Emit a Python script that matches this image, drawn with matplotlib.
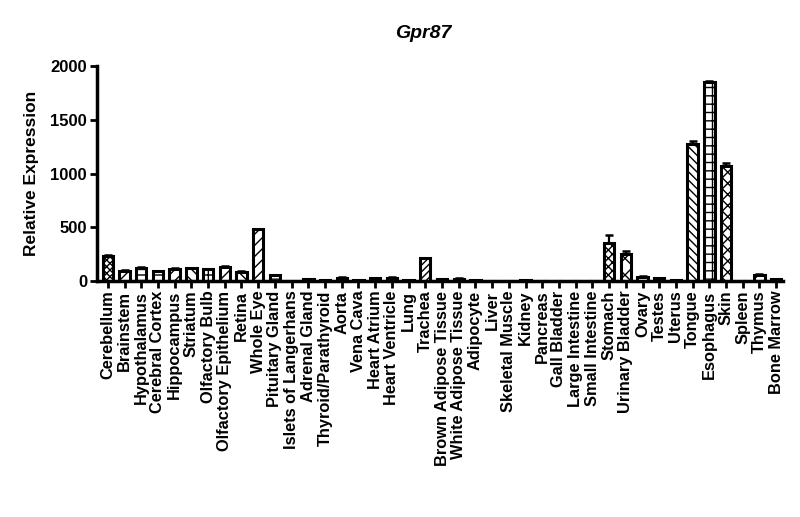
import matplotlib
matplotlib.use("Agg")
import matplotlib.pyplot as plt
import numpy as np

categories = ["Cerebellum", "Brainstem", "Hypothalamus", "Cerebral Cortex", "Hippocampus",
              "Striatum", "Olfactory Bulb", "Olfactory Epithelium", "Retina", "Whole Eye",
              "Pituitary Gland", "Islets of Langerhans", "Adrenal Gland", "Thyroid/Parathyroid",
              "Aorta", "Vena Cava", "Heart Atrium", "Heart Ventricle", "Lung", "Trachea",
              "Brown Adipose Tissue", "White Adipose Tissue", "Adipocyte", "Liver",
              "Skeletal Muscle", "Kidney", "Pancreas", "Gall Bladder", "Large Intestine",
              "Small Intestine", "Stomach", "Urinary Bladder", "Ovary", "Testes", "Uterus",
              "Tongue", "Esophagus", "Skin", "Spleen", "Thymus", "Bone Marrow"]

values = [235, 95, 125, 90, 115, 120, 110, 135, 85, 480,
          55, 3, 18, 5, 30, 5, 25, 28, 5, 210,
          15, 22, 5, 3, 3, 10, 2, 3, 1, 1,
          355, 255, 35, 25, 5, 1280, 1855, 1070, 3, 60, 15]

errors = [8, 5, 8, 5, 5, 5, 5, 8, 5, 5,
          3, 1, 3, 1, 8, 1, 5, 8, 1, 8,
          3, 4, 1, 1, 1, 2, 1, 1, 0, 0,
          70, 28, 12, 6, 1, 28, 10, 32, 1, 4, 3]

hatches = ["xxxxx", "x", "---", "-", "///", "\\\\\\", "+", "//", "\\\\", "///",
           "--", "xx", "\\\\", "//", "xxx", "++", "///", "\\\\\\", "--", "/////",
           "xx", "++", "//", "\\\\", "--", "xx", "//", "\\\\", "--", "++",
           "xxxx", "xx", "//", "\\\\", "--", "\\\\\\\\", "++", "xxx", "//", "///", "--"]

plt.rcParams['font.family'] = ['Liberation Sans', 'DejaVu Sans']
plt.rcParams['font.weight'] = 'bold'
plt.rcParams['hatch.linewidth'] = 1.0

fig = plt.figure(figsize=(8, 5.17), dpi=100)
ax = fig.add_axes([0.121, 0.4565, 0.858, 0.415])

x = np.arange(len(categories))
bars = ax.bar(x, values, width=0.62, color='white', edgecolor='black', linewidth=2.2,
              zorder=2)
for b, h in zip(bars, hatches):
    b.set_hatch(h)

lower = np.zeros(len(errors))
ax.errorbar(x, values, yerr=[lower, errors], fmt='none', ecolor='black',
            elinewidth=1.6, capsize=3, capthick=1.8, zorder=3)

ax.set_xlim(-0.66, 40.42)
ax.set_ylim(0, 2000)
ax.set_yticks([0, 500, 1000, 1500, 2000])
ax.set_xticks(x)
ax.set_xticklabels(categories, rotation=90, fontsize=11.8, fontweight='bold')
for lab in ax.get_yticklabels():
    lab.set_fontsize(12)
    lab.set_fontweight('bold')

for s in ['top', 'right']:
    ax.spines[s].set_visible(False)
for s in ['left', 'bottom']:
    ax.spines[s].set_linewidth(2.5)
ax.tick_params(axis='both', width=2.0, length=5, pad=2)

ax.set_ylabel("Relative Expression", fontsize=12.5, fontweight='bold', labelpad=8)
fig.text(0.529, 1 - 34 / 517, "Gpr87", fontsize=14, fontweight='bold', fontstyle='italic',
         ha='center', va='center')

fig.savefig("out.png", dpi=100)
